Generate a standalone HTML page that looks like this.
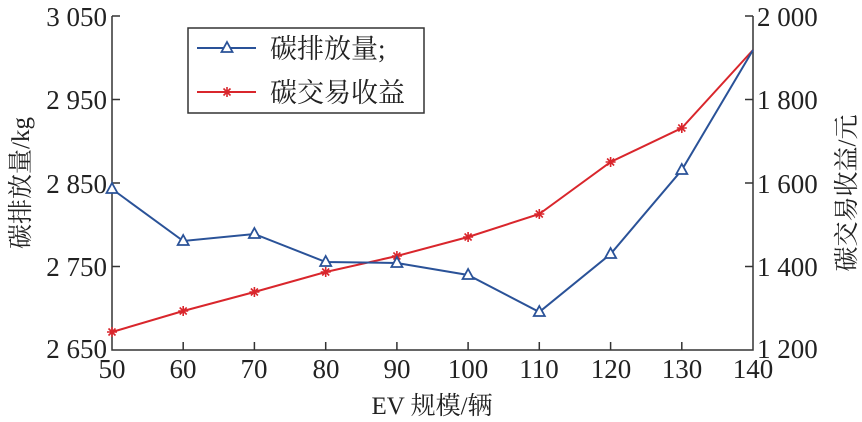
<!DOCTYPE html><html><head><meta charset="utf-8"><style>body{margin:0;background:#fff}svg{display:block}text{font-family:"Liberation Serif","Noto Serif CJK SC",serif;fill:#222}</style></head><body>
<svg width="862" height="422" viewBox="0 0 862 422" xmlns="http://www.w3.org/2000/svg">
<defs>
<path id="s" d="M-5,0h10M0,-5v10M-3.5,-3.5l7,7M-3.5,3.5l7,-7"/>
<path id="t" d="M0,-6L5.5,4H-5.5Z"/>
</defs>
<g stroke="#333" stroke-width="1.5" fill="none">
<path d="M112,16V350H753V16"/>
<path d="M112,16h8M112,99.5h8M112,183h8M112,266.5h8M753,16h-8M753,99.5h-8M753,183h-8M753,266.5h-8"/>
<path d="M183.2,350v-8M254.4,350v-8M325.7,350v-8M396.9,350v-8M468.1,350v-8M539.3,350v-8M610.6,350v-8M681.8,350v-8"/>
</g>
<g font-size="27" text-anchor="end">
<text x="107" y="26">3 050</text><text x="107" y="109">2 950</text><text x="107" y="193">2 850</text><text x="107" y="276">2 750</text><text x="107" y="358">2 650</text>
</g>
<g font-size="27">
<text x="757" y="26">2 000</text><text x="757" y="109">1 800</text><text x="757" y="193">1 600</text><text x="757" y="276">1 400</text><text x="757" y="358">1 200</text>
</g>
<g font-size="27" text-anchor="middle">
<text x="112" y="378">50</text><text x="183" y="378">60</text><text x="254" y="378">70</text><text x="326" y="378">80</text><text x="397" y="378">90</text><text x="468" y="378">100</text><text x="539" y="378">110</text><text x="611" y="378">120</text><text x="682" y="378">130</text><text x="753" y="378">140</text>
<text x="432" y="414" font-size="25">EV 规模/辆</text>
<text transform="translate(29,183) rotate(-90)" font-size="25">碳排放量/kg</text>
<text transform="translate(855,193) rotate(-90)" font-size="25">碳交易收益/元</text>
</g>
<polyline fill="none" stroke="#d9262c" stroke-width="2" points="112,332 183.2,311 254.4,292 325.7,272 396.9,256 468.1,237 539.3,214 610.6,162 681.8,128 753,50"/>
<polyline fill="none" stroke="#2a5298" stroke-width="2" points="112,189 183.2,241 254.4,234 325.7,262 396.9,263 468.1,275 539.3,312 610.6,254 681.8,170 753,50"/>
<g stroke="#d9262c" stroke-width="1.6" fill="none">
<use href="#s" x="112" y="332"/><use href="#s" x="183.2" y="311"/><use href="#s" x="254.4" y="292"/><use href="#s" x="325.7" y="272"/><use href="#s" x="396.9" y="256"/><use href="#s" x="468.1" y="237"/><use href="#s" x="539.3" y="214"/><use href="#s" x="610.6" y="162"/><use href="#s" x="681.8" y="128"/>
</g>
<g stroke="#2a5298" stroke-width="1.8" fill="#fff">
<use href="#t" x="112" y="189"/><use href="#t" x="183.2" y="241"/><use href="#t" x="254.4" y="234"/><use href="#t" x="325.7" y="262"/><use href="#t" x="396.9" y="263"/><use href="#t" x="468.1" y="275"/><use href="#t" x="539.3" y="312"/><use href="#t" x="610.6" y="254"/><use href="#t" x="681.8" y="170"/>
</g>
<rect x="188" y="28" width="236" height="85" fill="#fff" stroke="#333" stroke-width="1.5"/>
<line x1="197" y1="48" x2="256" y2="48" stroke="#2a5298" stroke-width="2"/>
<use href="#t" x="227" y="48" stroke="#2a5298" stroke-width="1.8" fill="#fff"/>
<line x1="197" y1="92" x2="256" y2="92" stroke="#d9262c" stroke-width="2"/>
<use href="#s" x="227" y="92" stroke="#d9262c" stroke-width="1.6"/>
<text x="270" y="58" font-size="27">碳排放量;</text>
<text x="270" y="102" font-size="27">碳交易收益</text>
</svg></body></html>
